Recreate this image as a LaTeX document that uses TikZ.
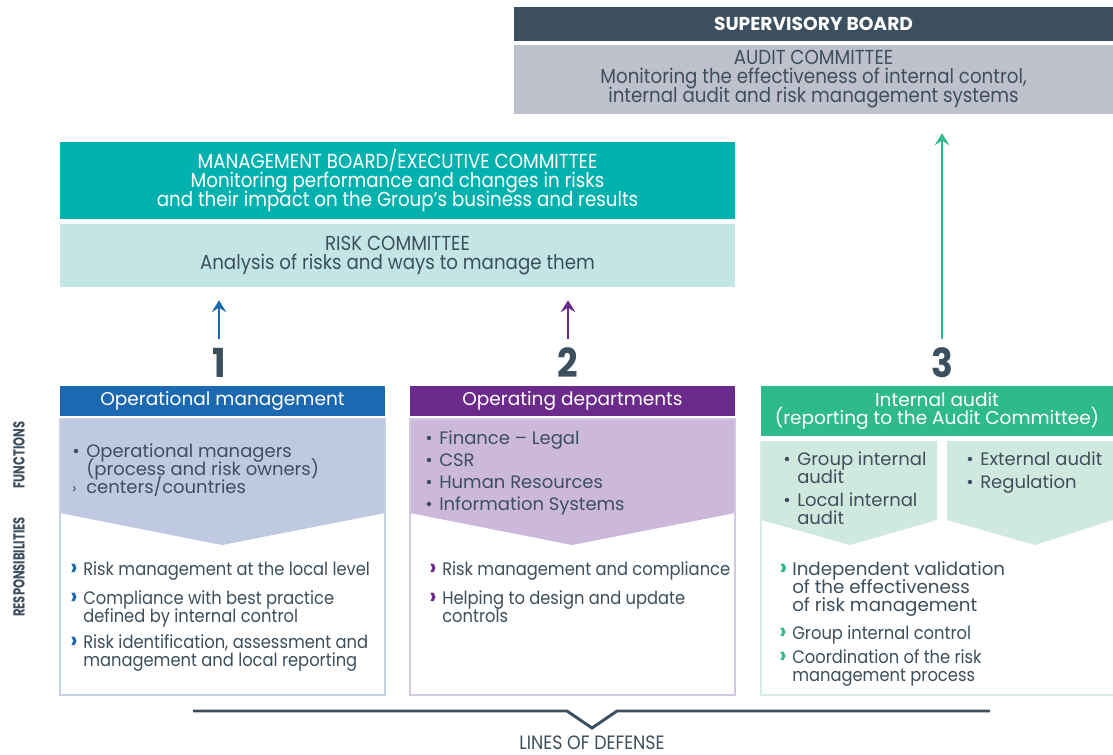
\documentclass[tikz,border=0pt]{standalone}
\usepackage{fontspec}
\setmainfont{Poppins}
\newfontfamily\cond[FakeStretch=0.9]{Poppins}
\newfontfamily\respf[FakeStretch=0.9]{Poppins}
\newfontfamily\sidef[FakeStretch=0.72]{Poppins}
\usetikzlibrary{arrows.meta,calc}
\lineskiplimit=-100pt
\definecolor{slate}{HTML}{3B4F5F}
\definecolor{txt}{HTML}{3D4F5C}
\definecolor{auditgray}{HTML}{BEC0CB}
\definecolor{tealA}{HTML}{00B1AE}
\definecolor{tealB}{HTML}{C4E5E5}
\definecolor{blueA}{HTML}{1D69B1}
\definecolor{blueB}{HTML}{C0C9E2}
\definecolor{blueC}{HTML}{C8D0E6}
\definecolor{purA}{HTML}{6B2B8A}
\definecolor{purB}{HTML}{CBB8DB}
\definecolor{purC}{HTML}{D5C8E3}
\definecolor{grnA}{HTML}{2FBA89}
\definecolor{grnB}{HTML}{D0E9DE}
\definecolor{grnC}{HTML}{D8EDE3}
\tikzset{
  box/.style={inner sep=0pt, align=center},
  hdr/.style={box, text=white, font=\fontsize{13.9}{14}\selectfont},
  topt/.style={box, text=txt, font=\cond\fontsize{15.2}{14.3}\selectfont},
  blist/.style={inner sep=0pt, anchor=north west, align=left, text=txt, font=\fontsize{13.5}{13.5}\selectfont},
  rlist/.style={inner sep=0pt, anchor=north west, align=left, text=txt, font=\respf\fontsize{13.6}{13.8}\selectfont},
  num/.style={inner sep=0pt, text=slate, font=\bfseries\cond\fontsize{30}{30}\selectfont},
  side/.style={inner sep=0pt, text=slate, rotate=90, font=\bfseries\sidef\fontsize{12}{12}\selectfont},
  arr/.style={line width=2pt, -{Stealth[length=9pt,width=11pt,inset=3.5pt]}},
}
\newcommand\bl{\makebox[10.5pt][l]{•}}
\newcommand\ind{\hspace*{10.5pt}}
\newcommand\chv[1]{\makebox[9.75pt][l]{\textcolor{#1}{\bfseries\fontsize{18}{13}\selectfont ›}}}
\newcommand\cind{\hspace*{9.75pt}}
\begin{document}
\begin{tikzpicture}[x=0.75pt,y=-0.75pt]
\useasboundingbox (0,0) rectangle (1113,754);
\fill[white] (0,0) rectangle (1113,754);

% top right boards
\node[box, fill=slate, minimum width=449.25pt, minimum height=25.5pt, text=white,
  font=\bfseries\fontsize{14}{14}\selectfont] (sup) at (813.5,24) {SUPERVISORY BOARD};
\node[topt, fill=auditgray, minimum width=449.25pt, minimum height=51.75pt] (audit) at (813.5,79.5)
  {AUDIT COMMITTEE\\Monitoring the effectiveness of internal control,\\internal audit and risk management systems};

% management + risk committee
\node[topt, fill=tealA, minimum width=506.25pt, minimum height=57.75pt, text=white] (mgmt) at (397.5,180.5)
  {MANAGEMENT BOARD/EXECUTIVE COMMITTEE\\Monitoring performance and changes in risks\\and their impact on the Group’s business and results};
\node[topt, fill=tealB, minimum width=506.25pt, minimum height=47.25pt] (risk) at (397.5,255.5)
  {RISK COMMITTEE\\Analysis of risks and ways to manage them};

% numbers
\node[num] (n1) at (219,363) {1};
\node[num] (n2) at (568,363) {2};
\node[num] (n3) at (942,363) {3};

% arrows
\coordinate (s1) at (219,339);
\coordinate (s2) at (568,339);
\coordinate (s3) at (942,339);
\draw[arr, blueA] (s1) -- ($(risk.south -| s1)+(0,13)$);
\draw[arr, purA] (s2) -- ($(risk.south -| s2)+(0,13)$);
\draw[arr, grnA] (s3) -- ($(audit.south -| s3)+(0,19)$);

% column headers
\node[hdr, fill=blueA, minimum width=243.75pt, minimum height=22.5pt] (h1) at (222.5,401) {Operational management};
\node[hdr, fill=purA, minimum width=243.75pt, minimum height=22.5pt] (h2) at (572.5,401) {Operating departments};
\node[hdr, fill=grnA, minimum width=264pt, minimum height=37.5pt] (h3) at (937,411)
  {Internal audit\\(reporting to the Audit Committee)};

% column 1 body
\fill[blueB] (60,419) -- (385,419) -- (385,513) -- (222,545) -- (60,513) -- cycle;
\draw[blueC, line width=1.5pt] (60,419) rectangle (385,695);
% column 2 body
\fill[purB] (410,419) -- (735,419) -- (735,513) -- (572,545) -- (410,513) -- cycle;
\draw[purC, line width=1.5pt] (410,419) rectangle (735,695);
% column 3 body
\fill[grnB] (761,441) -- (937,441) -- (937,520) -- (850,545) -- (761,520) -- cycle;
\fill[grnB] (947,441) -- (1113,441) -- (1113,520) -- (1035,545) -- (947,520) -- cycle;
\draw[grnC, line width=1.5pt] (1114,695) -- (761,695) -- (761,441);

% functions texts
\node[blist] (f1) at (72,444)
  {\bl Operational managers\\\ind(process and risk owners)\\\makebox[10.5pt][l]{\fontsize{11}{10}\selectfont ›}centers/countries};
\node[blist, font=\fontsize{13.5}{16.5}\selectfont] (f2) at (425,431)
  {\bl Finance – Legal\\\bl CSR\\\bl Human Resources\\\bl Information Systems};
\node[blist] (f3a) at (783,452) {\bl Group internal\\\ind audit};
\node[blist] (f3b) at (783,493) {\bl Local internal\\\ind audit};
\node[blist, font=\fontsize{13.5}{17.2}\selectfont] (f3c) at (966,452) {\bl External audit\\\bl Regulation};

% responsibilities texts
\node[rlist] (r1a) at (70,561) {\chv{blueA}Risk management at the local level};
\node[rlist] (r1b) at (70,590) {\chv{blueA}Compliance with best practice\\\cind defined by internal control};
\node[rlist] (r1c) at (70,634) {\chv{blueA}Risk identification, assessment and\\\cind management and local reporting};
\node[rlist] (r2a) at (429,561) {\chv{purA}Risk management and compliance};
\node[rlist] (r2b) at (429,590) {\chv{purA}Helping to design and update\\\cind controls};
\node[rlist, font=\fontsize{13.7}{13.8}\selectfont] (r3a) at (779,561)
  {\chv{grnA}Independent validation\\\cind of the effectiveness\\\cind of risk management};
\node[rlist] (r3b) at (779,625) {\chv{grnA}Group internal control};
\node[rlist] (r3c) at (779,649) {\chv{grnA}Coordination of the risk\\\cind management process};

% side labels
\node[side] (lf) at (19,455) {FUNCTIONS};
\node[side] (lr) at (19,567) {RESPONSIBILITIES};

% lines of defense
\coordinate (d0) at (193,711);
\coordinate (d1) at (567,711);
\coordinate (d2) at (592,728);
\coordinate (d3) at (617,711);
\coordinate (d4) at (990,711);
\draw[slate, line width=2.2pt, line join=miter] (d0) -- (d1) -- (d2) -- (d3) -- (d4);
\node[inner sep=0pt, anchor=base, text=txt, font=\cond\fontsize{14.5}{14}\selectfont] (lod) at (592,749) {LINES OF DEFENSE};
\end{tikzpicture}
\end{document}
